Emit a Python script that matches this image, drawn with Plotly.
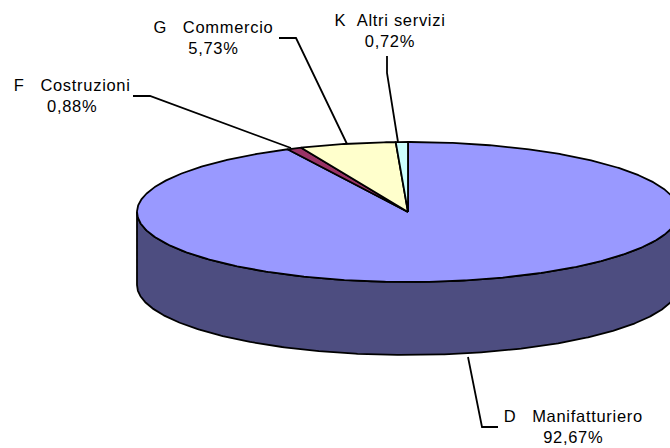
import numpy as np
import plotly.graph_objects as go

categories = ["D\u00a0\u00a0\u00a0Manifatturiero", "F\u00a0\u00a0\u00a0Costruzioni", "G\u00a0\u00a0\u00a0Commercio", "K\u00a0\u00a0Altri servizi"]
shares = [92.67, 0.88, 5.73, 0.72]
colors = ["#9999ff", "#993366", "#ffffcc", "#ccffff"]
side_color = "#4d4d80"

# pie geometry in page pixels
CX, CY, RX, RY, DEPTH = 408, 212, 271, 70, 73
label_pos = [(573, 426), (72, 95), (213, 37), (390, 30)]
leaders = [
    [(468, 357), (482, 427), (498, 427)],
    [(133, 96), (150, 96), (291, 148)],
    [(279, 38), (296, 38), (347, 144)],
    [(387, 56), (387, 73), (398, 142)],
]


def rim(a0, a1, dy=0.0):
    t = np.radians(np.linspace(a0, a1, max(int(abs(a1 - a0)) * 2 + 2, 3)))
    return CX + RX * np.sin(t), CY - RY * np.cos(t) + dy


fig = go.Figure()
black = dict(color="black", width=1.8)

# visible side wall: front half of the rim, 90deg to 270deg clockwise from top
tx, ty = rim(90, 270)
bx, by = rim(270, 90, DEPTH)
fig.add_trace(go.Scatter(x=np.r_[tx, bx, tx[0]], y=np.r_[ty, by, ty[0]], mode="lines",
                         fill="toself", fillcolor=side_color, line=black, hoverinfo="skip"))

start = 0.0
for name, share, col in zip(categories, shares, colors):
    sweep = share / sum(shares) * 360
    x, y = rim(start, start + sweep)
    fig.add_trace(go.Scatter(x=np.r_[CX, x, CX], y=np.r_[CY, y, CY], mode="lines",
                             fill="toself", fillcolor=col, line=black, name=name))
    start += sweep

for pts in leaders:
    fig.add_trace(go.Scatter(x=[p[0] for p in pts], y=[p[1] for p in pts], mode="lines",
                             line=black, hoverinfo="skip"))

for name, share, (lx, ly) in zip(categories, shares, label_pos):
    pct = f"{share:.2f}".replace(".", ",") + "%"
    fig.add_annotation(x=lx, y=ly, text=f"{name}<br>{pct}", showarrow=False, align="center",
                       font=dict(family="Liberation Sans", size=16.5, color="black"))

fig.update_layout(
    width=670, height=448, margin=dict(l=0, r=0, t=0, b=0),
    paper_bgcolor="white", plot_bgcolor="white", showlegend=False,
    xaxis=dict(range=[0, 670], visible=False, fixedrange=True),
    yaxis=dict(range=[448, 0], visible=False, fixedrange=True),
)
page_fix = """
document.body.style.margin = '0';
document.querySelectorAll('.annotation-text').forEach(function (t) { t.style.letterSpacing = '0.7px'; });
"""
fig.write_html("out.html", config={"displayModeBar": False}, post_script=page_fix)
